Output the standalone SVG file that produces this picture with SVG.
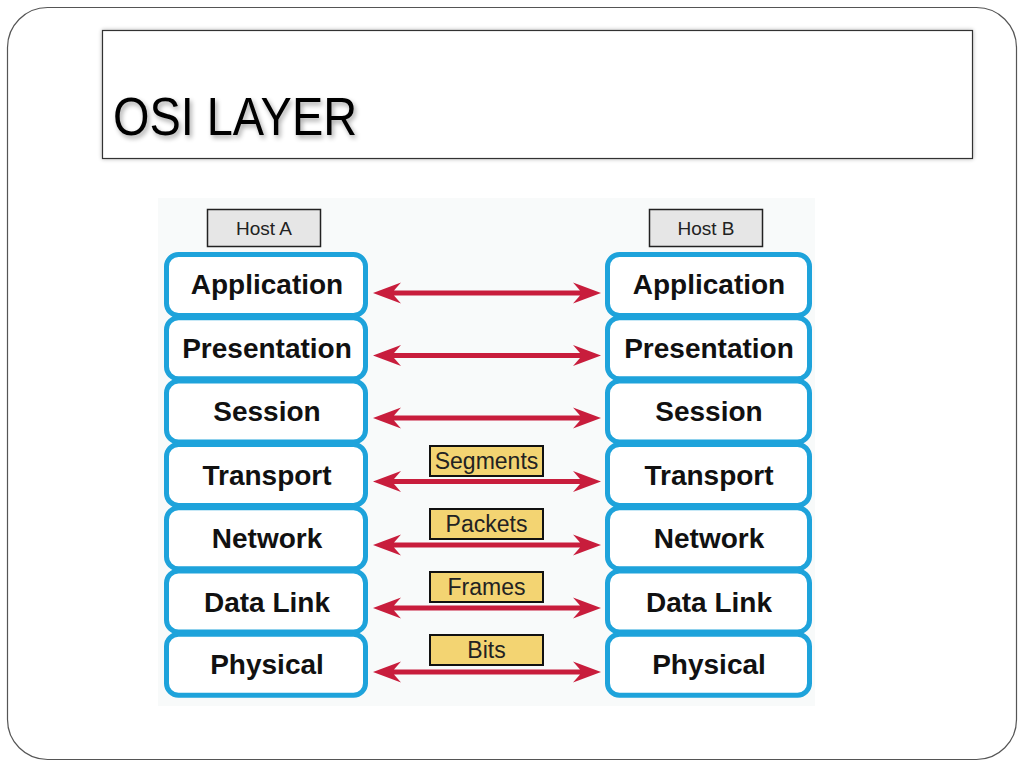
<svg xmlns="http://www.w3.org/2000/svg" xmlns:xlink="http://www.w3.org/1999/xlink" width="1024" height="768" viewBox="0 0 1024 768">
<defs>
<style>
.layer rect{fill:#ffffff;stroke:#1ea3db;stroke-width:5}
.layer text{font-family:"Liberation Sans",Arial,sans-serif;font-weight:bold;font-size:28px;fill:#111;text-anchor:middle}
.host rect{fill:#e6e6e6;stroke:#222;stroke-width:1.5}
.host text{font-family:"Liberation Sans",Arial,sans-serif;font-size:19px;fill:#222;text-anchor:middle}
.pdu rect{fill:#f3d472;stroke:#111;stroke-width:2}
.pdu text{font-family:"Liberation Sans",Arial,sans-serif;font-size:23px;fill:#222;text-anchor:middle}
.arrow{fill:#c81d3c}
</style>
<filter id="tshadow" x="-10%" y="-30%" width="120%" height="160%">
<feGaussianBlur in="SourceAlpha" stdDeviation="2.5"/>
<feOffset dx="2" dy="3" result="b"/>
<feComponentTransfer><feFuncA type="linear" slope="0.35"/></feComponentTransfer>
<feMerge><feMergeNode/><feMergeNode in="SourceGraphic"/></feMerge>
</filter>
<filter id="bshadow" x="-5%" y="-10%" width="110%" height="120%">
<feGaussianBlur in="SourceAlpha" stdDeviation="2"/>
<feComponentTransfer><feFuncA type="linear" slope="0.3"/></feComponentTransfer>
<feMerge><feMergeNode/><feMergeNode in="SourceGraphic"/></feMerge>
</filter>
<path id="dbl" d="M373,0 L401,-10.5 L394,-2.5 L580,-2.5 L573,-10.5 L601,0 L573,10.5 L580,2.5 L394,2.5 L401,10.5 Z"/>
</defs>
<rect width="1024" height="768" fill="#ffffff"/>
<rect x="7.5" y="7.5" width="1009" height="752" rx="40" ry="40" fill="#ffffff" stroke="#555" stroke-width="1.2"/>
<g id="title">
<rect x="102.5" y="30.5" width="870" height="128" fill="#ffffff" stroke="#333" stroke-width="1.2" filter="url(#bshadow)"/>
<text x="113" y="135" font-family="'Liberation Sans',Arial,sans-serif" font-size="53" fill="#000" textLength="244" lengthAdjust="spacingAndGlyphs" filter="url(#tshadow)">OSI LAYER</text>
</g>
<rect x="158" y="198" width="657" height="508" fill="#f8fafa"/>
<g id="hostA" class="host"><rect x="207.5" y="209.5" width="113" height="37"/><text x="264" y="235">Host A</text></g>
<g id="hostB" class="host"><rect x="649.5" y="209.5" width="113" height="37"/><text x="706" y="235">Host B</text></g>
<g id="A-application" class="layer"><rect x="166.5" y="254.5" width="199" height="61" rx="12"/><text x="267" y="294">Application</text></g>
<g id="A-presentation" class="layer"><rect x="166.5" y="317.8" width="199" height="61" rx="12"/><text x="267" y="357.5">Presentation</text></g>
<g id="A-session" class="layer"><rect x="166.5" y="381.1" width="199" height="61" rx="12"/><text x="267" y="421">Session</text></g>
<g id="A-transport" class="layer"><rect x="166.5" y="444.4" width="199" height="61" rx="12"/><text x="267" y="484.5">Transport</text></g>
<g id="A-network" class="layer"><rect x="166.5" y="507.7" width="199" height="61" rx="12"/><text x="267" y="548">Network</text></g>
<g id="A-datalink" class="layer"><rect x="166.5" y="571" width="199" height="61" rx="12"/><text x="267" y="611.5">Data Link</text></g>
<g id="A-physical" class="layer"><rect x="166.5" y="634.3" width="199" height="61" rx="12"/><text x="267" y="674">Physical</text></g>
<g id="B-application" class="layer"><rect x="607.5" y="254.5" width="202" height="61" rx="12"/><text x="709" y="294">Application</text></g>
<g id="B-presentation" class="layer"><rect x="607.5" y="317.8" width="202" height="61" rx="12"/><text x="709" y="357.5">Presentation</text></g>
<g id="B-session" class="layer"><rect x="607.5" y="381.1" width="202" height="61" rx="12"/><text x="709" y="421">Session</text></g>
<g id="B-transport" class="layer"><rect x="607.5" y="444.4" width="202" height="61" rx="12"/><text x="709" y="484.5">Transport</text></g>
<g id="B-network" class="layer"><rect x="607.5" y="507.7" width="202" height="61" rx="12"/><text x="709" y="548">Network</text></g>
<g id="B-datalink" class="layer"><rect x="607.5" y="571" width="202" height="61" rx="12"/><text x="709" y="611.5">Data Link</text></g>
<g id="B-physical" class="layer"><rect x="607.5" y="634.3" width="202" height="61" rx="12"/><text x="709" y="674">Physical</text></g>
<g id="connectors" class="arrow">
<use xlink:href="#dbl" href="#dbl" transform="translate(0,293)"/>
<use xlink:href="#dbl" href="#dbl" transform="translate(0,355.5)"/>
<use xlink:href="#dbl" href="#dbl" transform="translate(0,418)"/>
<use xlink:href="#dbl" href="#dbl" transform="translate(0,481.5)"/>
<use xlink:href="#dbl" href="#dbl" transform="translate(0,545)"/>
<use xlink:href="#dbl" href="#dbl" transform="translate(0,608)"/>
<use xlink:href="#dbl" href="#dbl" transform="translate(0,672)"/>
</g>
<g id="segments" class="pdu"><rect x="430" y="446" width="113" height="30"/><text x="486.5" y="469">Segments</text></g>
<g id="packets" class="pdu"><rect x="430" y="509" width="113" height="30"/><text x="486.5" y="532">Packets</text></g>
<g id="frames" class="pdu"><rect x="430" y="572" width="113" height="30"/><text x="486.5" y="595">Frames</text></g>
<g id="bits" class="pdu"><rect x="430" y="635" width="113" height="30"/><text x="486.5" y="658">Bits</text></g>
</svg>
